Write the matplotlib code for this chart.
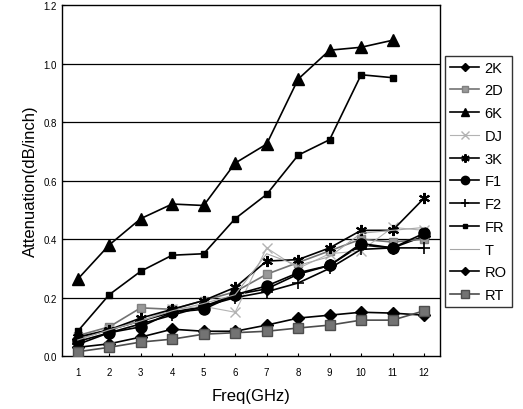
import numpy as np
import matplotlib
matplotlib.use("Agg")
import matplotlib.pyplot as plt

plt.rcParams["font.family"] = ["Liberation Sans", "DejaVu Sans"]

freq = [1, 2, 3, 4, 5, 6, 7, 8, 9, 10, 11, 12]

s_2K = [0.06, 0.09, 0.12, 0.15, 0.17, 0.21, 0.23, 0.28, 0.31, 0.38, 0.37, 0.41]
s_2D = [0.07, 0.10, 0.165, 0.16, 0.19, 0.22, 0.28, 0.32, 0.36, 0.40, 0.39, 0.40]
s_6K = [0.263, 0.38, 0.47, 0.52, 0.515, 0.66, 0.725, 0.947, 1.046, 1.056, 1.08]
s_DJ = [0.06, 0.09, 0.12, 0.16, 0.17, 0.15, 0.37, 0.30, 0.35, 0.36, 0.44, 0.43]
s_3K = [0.065, 0.09, 0.13, 0.16, 0.19, 0.235, 0.325, 0.33, 0.37, 0.43, 0.43, 0.54]
s_F1 = [0.05, 0.08, 0.10, 0.15, 0.16, 0.21, 0.24, 0.285, 0.31, 0.385, 0.37, 0.42]
s_F2 = [0.04, 0.08, 0.11, 0.14, 0.17, 0.20, 0.22, 0.25, 0.30, 0.365, 0.37, 0.37]
s_FR = [0.085, 0.21, 0.29, 0.345, 0.35, 0.47, 0.553, 0.687, 0.74, 0.962, 0.952]
s_T = [0.055, 0.09, 0.12, 0.155, 0.18, 0.21, 0.35, 0.31, 0.34, 0.42, 0.43, 0.44]
s_RO = [0.03, 0.042, 0.065, 0.092, 0.085, 0.085, 0.106, 0.13, 0.14, 0.15, 0.147, 0.14]
s_RT = [0.015, 0.03, 0.048, 0.058, 0.075, 0.08, 0.085, 0.096, 0.106, 0.123, 0.123, 0.155]

series = [
    ("2K", s_2K, dict(color="black", marker="D", ms=6)),
    ("2D", s_2D, dict(color="0.45", marker="s", ms=6, mfc="0.6", mec="0.5")),
    ("6K", s_6K, dict(color="black", marker="^", ms=8)),
    ("DJ", s_DJ, dict(color="0.7", marker="x", ms=7, lw=0.8)),
    ("3K", s_3K, dict(color="black", marker=(6, 2, 0), ms=8, mew=1.5)),
    ("F1", s_F1, dict(color="black", marker="o", ms=8)),
    ("F2", s_F2, dict(color="black", marker="+", ms=8, mew=1.2)),
    ("FR", s_FR, dict(color="black", marker="s", ms=4)),
    ("T", s_T, dict(color="0.65", lw=0.8)),
    ("RO", s_RO, dict(color="black", marker="D", ms=6)),
    ("RT", s_RT, dict(color="0.3", marker="s", ms=7, mfc="0.45", mec="0.3")),
]

fig = plt.figure(figsize=(5.23, 4.10), dpi=100)
ax = fig.add_axes([0.1185, 0.129, 0.7225, 0.856])

for y in [0.2, 0.4, 0.6, 0.8, 1.0]:
    ax.axhline(y, color="black", lw=0.9, zorder=1)

handles = []
for name, vals, st in series:
    kw = dict(lw=1.2)
    kw.update(st)
    h, = ax.plot(freq[:len(vals)], vals, label=name, zorder=3, **kw)
    handles.append(h)

ax.set_xlim(0.5, 12.5)
ax.set_ylim(0, 1.2)
ax.set_xticks(freq)
ax.set_yticks([0.0, 0.2, 0.4, 0.6, 0.8, 1.0, 1.2])
ax.set_yticklabels(["0.0", "0.2", "0.4", "0.6", "0.8", "1.0", "1.2"])
ax.tick_params(axis="both", labelsize=7, length=2, direction="in")
ax.tick_params(axis="x", pad=8)
ax.set_xlabel("Freq(GHz)", fontsize=12, labelpad=8)
ax.set_ylabel("Attenuation(dB/inch)", fontsize=12)
for sp in ax.spines.values():
    sp.set_linewidth(1.0)

fig.legend(handles=handles, loc="upper left", bbox_to_anchor=(0.851, 0.862),
           fontsize=10.5, frameon=True, fancybox=False, edgecolor="black",
           handlelength=2.0, labelspacing=0.6, borderpad=0.35, handletextpad=0.35,
           borderaxespad=0, markerscale=0.75)

fig.savefig("out.png", dpi=100)
